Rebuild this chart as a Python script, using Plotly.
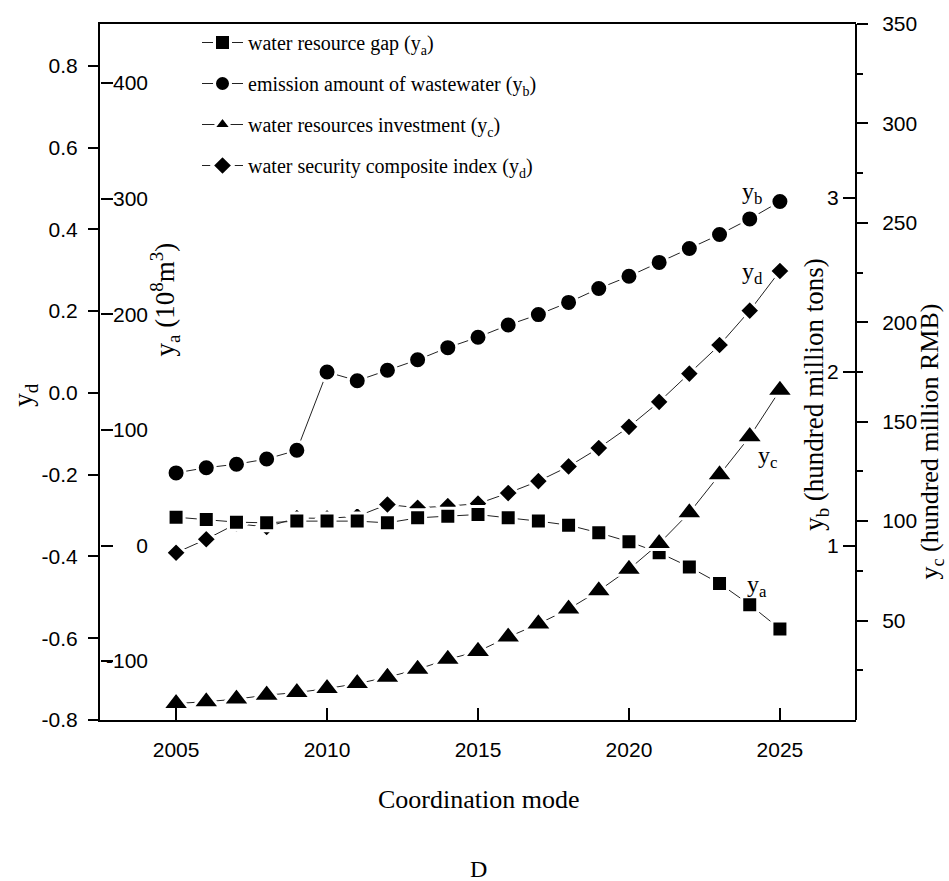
import plotly.graph_objects as go

# ---- data -------------------------------------------------------------
years = list(range(2005, 2026))

# water resource gap, 10^8 m^3
water_gap = [24.5, 22.5, 20.2, 19.6, 21.1, 21.1, 21.1, 19.6, 23.9, 25.4, 26.8,
             23.9, 21.1, 17.6, 11.0, 3.3, -6.2, -18.5, -32.8, -51.2, -72.1]
# emission amount of wastewater, hundred million tons
wastewater = [1.42, 1.45, 1.47, 1.50, 1.55, 2.00, 1.95, 2.01, 2.07, 2.14, 2.20,
              2.27, 2.33, 2.40, 2.48, 2.55, 2.63, 2.71, 2.79, 2.88, 2.98]
# water resources investment, hundred million RMB
investment = [8.3, 9.2, 10.5, 12.5, 13.8, 15.8, 18.3, 21.5, 25.5, 30.5, 34.5,
              41.7, 48.3, 55.8, 65.0, 75.8, 88.7, 104.2, 123.3, 142.5, 165.8]
# water security composite index
security_index = [-0.391, -0.358, -0.320, -0.328, -0.306, -0.307, -0.302, -0.273,
                  -0.281, -0.277, -0.271, -0.245, -0.216, -0.180, -0.135, -0.083,
                  -0.022, 0.047, 0.117, 0.201, 0.298]

x_ticks = [2005, 2010, 2015, 2020, 2025]
yd_ticks = [-0.8, -0.6, -0.4, -0.2, 0.0, 0.2, 0.4, 0.6, 0.8]
ya_ticks = [-100, 0, 100, 200, 300, 400]
yb_ticks = [1, 2, 3]
yc_ticks = [50, 100, 150, 200, 250, 300, 350]
yc_minor = [25, 75, 125, 175, 225, 275, 325]

# ---- page geometry ----------------------------------------------------
W, H = 949, 881
L, R, T, B = 100, 93, 20, 161
PW, PH = W - L - R, H - T - B


def paper_x(px):
    return (px - L) / PW


def paper_y(py):
    return (H - B - py) / PH


SANS = "Liberation Sans, Arial, sans-serif"
SERIF = "Liberation Serif, Times New Roman, serif"
TICKFONT = dict(family=SANS, size=21, color="black")
LINE = dict(color="#222222", width=1)

fig = go.Figure()


def series(y, name, symbol, size, axis, group):
    fig.add_trace(go.Scatter(
        x=years, y=y, name=name, yaxis=axis, mode="lines+markers",
        legendgroup=group,
        line=LINE,
        marker=dict(symbol=symbol, size=size, color="black",
                    line=dict(color="white", width=3)),
    ))


series(water_gap, "water resource gap (y<sub>a</sub>)", "square", 16, "y2", "a")
series(wastewater, "emission amount of wastewater (y<sub>b</sub>)", "circle", 18, "y3", "b")
series(investment, "water resources investment (y<sub>c</sub>)", "triangle-up", 24, "y4", "c")
series(security_index, "water security composite index (y<sub>d</sub>)", "diamond", 16, "y", "d")

# the y_a label axis needs a trace of its own to be drawn
fig.add_trace(go.Scatter(x=years, y=water_gap, yaxis="y5", mode="lines",
                         line=dict(width=0), opacity=0, showlegend=False,
                         hoverinfo="skip"))

axis_common = dict(showgrid=False, zeroline=False, linecolor="black",
                   tickcolor="black", tickwidth=2, tickfont=TICKFONT)

fig.update_layout(
    width=W, height=H,
    margin=dict(l=L, r=R, t=T, b=B, pad=0),
    paper_bgcolor="white", plot_bgcolor="white",
    showlegend=True,
    legend=dict(x=paper_x(197), y=paper_y(19), xanchor="left", yanchor="top",
                font=dict(family=SERIF, size=20, color="black"),
                bgcolor="rgba(0,0,0,0)", traceorder="grouped",
                tracegroupgap=12, itemwidth=41),
    xaxis=dict(range=[2002.48, 2027.52], tickvals=x_ticks, ticks="inside",
               ticklen=12, showline=True, linewidth=2, mirror=True,
               ticklabelstandoff=10, **axis_common),
    # y_d: left, ticks pointing out
    yaxis=dict(range=[-0.8, 0.902], tickvals=yd_ticks,
               ticktext=[f"{v:.1f}" for v in yd_ticks],
               ticks="outside", ticklen=10, showline=True, linewidth=2,
               side="left", anchor="x", ticklabelstandoff=6, **axis_common),
    # y_a: ticks pointing into the plot from the left frame
    yaxis2=dict(range=[-150.9, 451.0], tickvals=ya_ticks, ticks="outside",
                ticklen=12, showticklabels=False, showline=False,
                overlaying="y", anchor="free", position=0, side="right",
                **axis_common),
    # y_a: labels right-aligned inside the frame
    yaxis5=dict(range=[-150.9, 451.0], tickvals=ya_ticks,
                ticktext=[str(v) for v in ya_ticks], ticks="",
                showline=False, overlaying="y", anchor="free",
                position=paper_x(148), side="left", ticklabelstandoff=0,
                **axis_common),
    # y_b: ticks pointing into the plot from the right frame
    yaxis3=dict(range=[0, 4.0], tickvals=yb_ticks, ticks="outside",
                ticklen=13, showline=False, overlaying="y", anchor="free",
                position=1, side="left", ticklabelstandoff=0, **axis_common),
    # y_c: right frame, ticks pointing out
    yaxis4=dict(range=[0, 350], tickvals=yc_ticks, ticks="outside",
                ticklen=11, showline=True, linewidth=2, overlaying="y",
                anchor="free", position=1, side="right",
                ticklabelstandoff=10,
                minor=dict(tickvals=yc_minor, ticks="outside", ticklen=6,
                           tickwidth=2, tickcolor="black"),
                **axis_common),
)

ann_font = dict(family=SERIF, size=24, color="black")
titles = [
    ("y<sub>d</sub>", 25, 393, 27),
    ("y<sub>a</sub> (10<sup>8</sup>m<sup>3</sup>)", 165, 297, 27),
    ("y<sub>b</sub> (hundred million tons)", 816, 393, 27),
    ("y<sub>c</sub> (hundred million RMB)", 931, 440, 26),
]
for text, px, py, size in titles:
    fig.add_annotation(text=text, x=paper_x(px), y=paper_y(py), xref="paper",
                       yref="paper", showarrow=False, textangle=-90,
                       font=dict(family=SERIF, size=size, color="black"),
                       xanchor="center", yanchor="middle")

# series labels next to the 2025 end points
end_labels = [
    ("y<sub>b</sub>", 752, 190),
    ("y<sub>d</sub>", 752, 270),
    ("y<sub>c</sub>", 767, 455),
    ("y<sub>a</sub>", 757, 585),
]
for text, px, py in end_labels:
    fig.add_annotation(text=text, x=paper_x(px), y=paper_y(py), xref="paper",
                       yref="paper", showarrow=False, font=ann_font,
                       xanchor="center", yanchor="middle")

fig.add_annotation(text="Coordination mode", x=0.5, y=paper_y(800),
                   xref="paper", yref="paper", showarrow=False,
                   font=dict(family=SERIF, size=26, color="black"),
                   yanchor="middle")
fig.add_annotation(text="D", x=0.5, y=paper_y(870), xref="paper",
                   yref="paper", showarrow=False,
                   font=dict(family=SERIF, size=24, color="black"),
                   yanchor="middle")

fig.write_html("out.html")
